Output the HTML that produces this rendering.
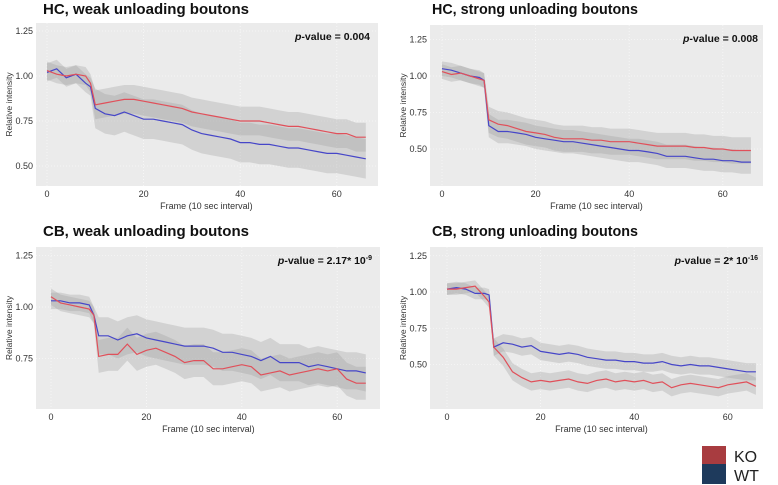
<!DOCTYPE html>
<html><head><meta charset="utf-8">
<style>
body{margin:0;background:#fff;width:778px;height:485px;overflow:hidden}
svg{display:block}
text{font-family:"Liberation Sans",sans-serif}
</style></head>
<body>
<svg id="fig" width="778" height="485" viewBox="0 0 778 485" xmlns="http://www.w3.org/2000/svg">
<g>
<rect x="702" y="446" width="24" height="18" fill="#a83c40"/>
<rect x="702" y="464" width="24" height="20" fill="#1e3a5c"/>
<text x="734" y="462" font-size="16" fill="#222">KO</text>
<text x="734" y="481" font-size="16" fill="#222">WT</text>
</g>
</svg>
<script>
const frames=[0,2,4,6,8,9,10,12,14,16,18,20,22,24,26,28,30,32,34,36,38,40,42,44,46,48,50,52,54,56,58,60,62,64,66];
const xTicks=[0,20,40,60];
const yTicks=[1.25,1.00,0.75,0.50];
const p1KO=[1.03,1.01,1.00,1.01,1.00,0.96,0.84,0.85,0.86,0.87,0.87,0.86,0.85,0.84,0.83,0.82,0.80,0.79,0.78,0.77,0.76,0.75,0.75,0.75,0.74,0.73,0.72,0.72,0.71,0.70,0.69,0.68,0.68,0.66,0.66];
const p1WT=[1.02,1.04,0.99,1.01,0.96,0.94,0.82,0.79,0.78,0.80,0.78,0.76,0.76,0.75,0.74,0.73,0.70,0.68,0.67,0.66,0.65,0.63,0.63,0.62,0.62,0.61,0.60,0.60,0.59,0.58,0.57,0.57,0.56,0.55,0.54];
const p2KO=[1.03,1.01,1.02,1.00,0.98,0.97,0.70,0.67,0.66,0.64,0.62,0.61,0.60,0.58,0.57,0.57,0.57,0.56,0.56,0.55,0.55,0.55,0.54,0.53,0.52,0.52,0.52,0.52,0.51,0.51,0.50,0.50,0.49,0.49,0.49];
const p2WT=[1.05,1.04,1.02,1.00,0.99,0.97,0.66,0.62,0.62,0.61,0.60,0.58,0.57,0.56,0.55,0.55,0.54,0.53,0.52,0.51,0.50,0.49,0.49,0.48,0.47,0.45,0.45,0.45,0.44,0.43,0.43,0.42,0.42,0.41,0.41];
const p3KO=[1.05,1.02,1.01,1.00,0.99,0.96,0.76,0.77,0.77,0.82,0.77,0.79,0.80,0.78,0.76,0.73,0.74,0.74,0.70,0.70,0.71,0.72,0.71,0.67,0.68,0.69,0.67,0.68,0.69,0.70,0.69,0.70,0.65,0.63,0.63];
const p3WT=[1.03,1.03,1.02,1.02,1.01,0.96,0.86,0.86,0.84,0.86,0.87,0.85,0.84,0.83,0.82,0.81,0.81,0.81,0.80,0.78,0.78,0.77,0.76,0.74,0.76,0.73,0.73,0.73,0.71,0.72,0.71,0.70,0.69,0.69,0.68];
const p4KO=[1.02,1.02,1.03,1.04,0.97,0.93,0.62,0.55,0.45,0.41,0.38,0.39,0.38,0.39,0.40,0.38,0.37,0.39,0.40,0.38,0.39,0.38,0.39,0.37,0.38,0.34,0.36,0.37,0.36,0.35,0.34,0.36,0.37,0.38,0.35];
const p4WT=[1.02,1.03,1.02,0.99,0.99,0.98,0.62,0.65,0.64,0.62,0.63,0.59,0.58,0.57,0.58,0.57,0.55,0.54,0.53,0.53,0.52,0.52,0.51,0.51,0.52,0.50,0.49,0.50,0.49,0.49,0.48,0.47,0.46,0.45,0.45];
const sdPre=[0.05,0.05,0.04,0.04];
const sdKO=[0.08,0.09,0.08,0.06];
const sdWT=[0.11,0.08,0.09,0.06];
const titles=["HC, weak unloading  boutons","HC, strong unloading  boutons","CB, weak unloading  boutons","CB, strong unloading  boutons"];
const pvals=["0.004","0.008","2.17* 10","2* 10"];
const pexps=["","","-9","-16"];
const panels=[
 {ko:p1KO,wt:p1WT,rx:36,ry:23,rw:342,rh:163,x0:47,xs:4.83,y1:76,ys:180,ty:14,lx:43,px:370},
 {ko:p2KO,wt:p2WT,rx:430,ry:25,rw:333,rh:161,x0:442,xs:4.68,y1:76,ys:146,ty:14,lx:432,px:758},
 {ko:p3KO,wt:p3WT,rx:36,ry:247,rw:344,rh:162,x0:51,xs:4.77,y1:307,ys:206,ty:236,lx:43,px:372},
 {ko:p4KO,wt:p4WT,rx:430,ry:247,rw:333,rh:162,x0:447,xs:4.68,y1:292,ys:145,ty:236,lx:432,px:758}
];
const NS="http://www.w3.org/2000/svg";
const svg=document.getElementById('fig');
function mk(t,a,parent){const e=document.createElementNS(NS,t);for(const k in a)e.setAttribute(k,a[k]);(parent||svg).appendChild(e);return e;}
panels.forEach((p,i)=>{
 const g=mk('g',{});
 
 
 const X=f=>p.x0+f*p.xs, Y=v=>p.y1-(v-1)*p.ys;
 const t=mk('text',{x:p.lx,y:p.ty,'font-size':15,'font-weight':'bold',fill:'#111',textLength:206,lengthAdjust:'spacingAndGlyphs'},g);t.textContent=titles[i];
 
 
 const bg=mk('rect',{x:p.rx,y:p.ry,width:p.rw,height:p.rh,fill:'#ebebeb'},g);
 
 
 const cp='clip'+i;const cpe=mk('clipPath',{id:cp},g);mk('rect',{x:p.rx,y:p.ry,width:p.rw,height:p.rh},cpe);
 const inner=mk('g',{'clip-path':'url(#'+cp+')'},g);
 xTicks.forEach(v=>{const l=mk('line',{x1:X(v),x2:X(v),y1:p.ry,y2:p.ry+p.rh,stroke:'#f8f8f8','stroke-width':0.8,'stroke-dasharray':'1 2'},inner);
  
  const tx=mk('text',{x:X(v),y:p.ry+p.rh+11,'font-size':9,'text-anchor':'middle',fill:'#333'},g);tx.textContent=v;
  });
 yTicks.forEach(v=>{const yy=Y(v);if(yy<p.ry-6||yy>p.ry+p.rh)return;
  const l=mk('line',{x1:p.rx,x2:p.rx+p.rw,y1:yy,y2:yy,stroke:'#f8f8f8','stroke-width':0.8,'stroke-dasharray':'1 2'},inner);
  
  const ty=mk('text',{x:p.rx-3,y:yy+3,'font-size':9,'text-anchor':'end',fill:'#333'},g);ty.textContent=v.toFixed(2);
  });
 [[p.wt,sdWT[i],'wt'],[p.ko,sdKO[i],'ko']].forEach(([arr,sd,nm])=>{
  let up='',lo='';
  arr.forEach((v,j)=>{const s=frames[j]<10?sdPre[i]:sd;up+=(j?'L':'M')+X(frames[j]).toFixed(1)+','+Y(v+s).toFixed(1);});
  for(let j=arr.length-1;j>=0;j--){const s=frames[j]<10?sdPre[i]:sd;lo+='L'+X(frames[j]).toFixed(1)+','+Y(arr[j]-s).toFixed(1);}
  const b=mk('path',{d:up+lo+'Z',fill:'#a0a0a0','fill-opacity':0.32},inner);
  });
 [[p.wt,'#4646c8','wt'],[p.ko,'#e0505a','ko']].forEach(([arr,c,nm])=>{
  const pts=arr.map((v,j)=>X(frames[j]).toFixed(1)+','+Y(v).toFixed(1)).join(' ');
  const l=mk('polyline',{points:pts,fill:'none',stroke:c,'stroke-width':1.2},inner);
  });
 const pv=mk('text',{x:p.px,y:p.ry+17,'font-size':10.5,'font-weight':'bold','text-anchor':'end',fill:'#111'},g);
 
 const it=mk('tspan',{'font-style':'italic'},pv);it.textContent='p';
 const r=mk('tspan',{},pv);r.textContent='-value = '+pvals[i];
 if(pexps[i]){const e=mk('tspan',{dy:-4,'font-size':7},pv);e.textContent=pexps[i];}
 const xt=mk('text',{x:X(33),y:p.ry+p.rh+23,'font-size':9,'text-anchor':'middle',fill:'#333'},g);xt.textContent='Frame (10 sec interval)';
 
 const cy=p.ry+p.rh/2;
 const yt=mk('text',{x:p.rx-24,y:cy,'font-size':8.5,'text-anchor':'middle',fill:'#333',transform:'rotate(-90 '+(p.rx-24)+' '+cy+')'},g);yt.textContent='Relative intensity';
 
});
</script>
</body></html>
